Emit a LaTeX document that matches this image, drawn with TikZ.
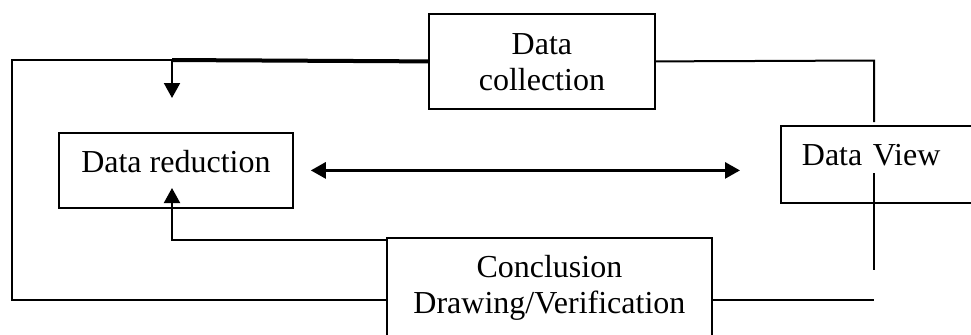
\documentclass[tikz,border=0pt]{standalone}
\usepackage{fontspec}
\setmainfont{Liberation Serif}
\usetikzlibrary{arrows.meta}
\tikzset{
  box/.style={draw, line width=0.9pt, inner sep=0pt, anchor=north west,
    font=\fontsize{16}{18}\selectfont},
  link/.style={line width=1pt},
}
\begin{document}
\begin{tikzpicture}[x=0.5pt, y=-0.5pt, >={Triangle[length=7.5pt,width=8pt]}]
            \clip (0,0) rectangle (971,334);
            \node[box, minimum width=113pt, align=center, text height=38.5pt, text depth=9pt] (collect) at (428,13) {Data\\collection};
            \node[box, minimum width=117pt, text height=20pt, text depth=17.5pt] (reduce) at (58,132) {Data reduction};
            \node[box, inner xsep=10.5pt, text width=90pt, align=left, text height=20pt, text depth=18.5pt] (view) at (780,125) {Data View};
            \node[box, minimum width=162.5pt, align=center, text height=38pt, text depth=18.5pt] (conclude) at (386,237) {Conclusion\\Drawing/Verification};
            \coordinate (tl) at (12,60);
            \coordinate (bl) at (12,300);
            \coordinate (drop) at (172,60);
            \coordinate (tr) at (874,60.5);
            \coordinate (vtop) at (874,122);
            \coordinate (vin) at (874,173);
            \coordinate (vend) at (874,270);
            \coordinate (cend) at (874,300);
            \coordinate (rise) at (172,240);
            \draw[line width=2pt] (collect.west) -- (drop);
            \draw[link] (drop) -- (tl) -- (bl) -- (bl -| conclude.west);
            \draw[link, ->] (drop) -- (172,98);
            \draw[link, ->] (rise -| conclude.west) -- (rise) -- (172,188);
            \draw[line width=1.4pt, <->] ([xshift=8.5pt]reduce.east) -- ([xshift=-20pt]view.west |- reduce.east);
            \draw[link] (collect.east) -- (tr) -- (vtop);
            \draw[link] (vin) -- (vend);
            \draw[link] (cend -| conclude.east) -- (cend);
\end{tikzpicture}
\end{document}
